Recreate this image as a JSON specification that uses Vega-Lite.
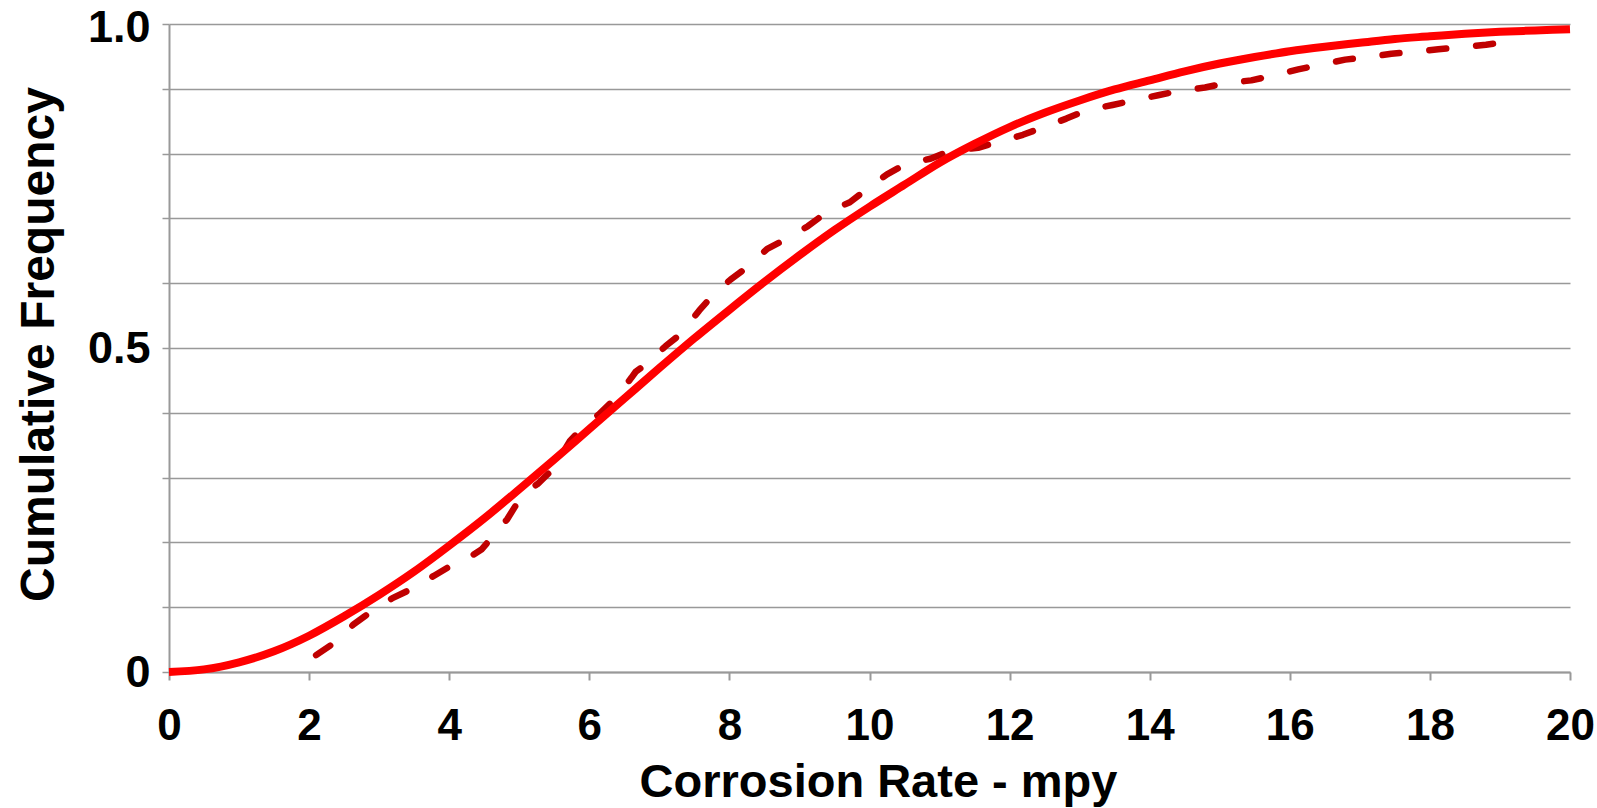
{
  "$schema": "https://vega.github.io/schema/vega-lite/v6.json",
  "width": 1401,
  "height": 648,
  "autosize": {"type": "none"},
  "padding": {"left": 169, "top": 24, "right": 27, "bottom": 136},
  "background": "white",
  "config": {"view": {"stroke": null}, "font": "Liberation Sans"},
  "datasets": {
    "fitted": [
      {"rate": 0, "freq": 0}, {"rate": 0.5, "freq": 0.004}, {"rate": 1, "freq": 0.015},
      {"rate": 1.5, "freq": 0.032}, {"rate": 2, "freq": 0.056}, {"rate": 2.5, "freq": 0.086},
      {"rate": 3, "freq": 0.119}, {"rate": 3.5, "freq": 0.155}, {"rate": 4, "freq": 0.195},
      {"rate": 4.5, "freq": 0.237}, {"rate": 5, "freq": 0.282}, {"rate": 5.5, "freq": 0.328},
      {"rate": 6, "freq": 0.375}, {"rate": 6.5, "freq": 0.422}, {"rate": 7, "freq": 0.469},
      {"rate": 7.5, "freq": 0.515}, {"rate": 8, "freq": 0.559}, {"rate": 8.5, "freq": 0.602},
      {"rate": 9, "freq": 0.643}, {"rate": 9.5, "freq": 0.682}, {"rate": 10, "freq": 0.718},
      {"rate": 10.5, "freq": 0.752}, {"rate": 11, "freq": 0.786}, {"rate": 11.5, "freq": 0.815},
      {"rate": 12, "freq": 0.841}, {"rate": 12.5, "freq": 0.863}, {"rate": 13, "freq": 0.882},
      {"rate": 13.5, "freq": 0.899}, {"rate": 14, "freq": 0.913}, {"rate": 14.5, "freq": 0.927},
      {"rate": 15, "freq": 0.939}, {"rate": 15.5, "freq": 0.949}, {"rate": 16, "freq": 0.958},
      {"rate": 16.5, "freq": 0.965}, {"rate": 17, "freq": 0.971}, {"rate": 17.5, "freq": 0.977},
      {"rate": 18, "freq": 0.981}, {"rate": 18.5, "freq": 0.985}, {"rate": 19, "freq": 0.988},
      {"rate": 19.5, "freq": 0.990}, {"rate": 20, "freq": 0.992}
    ],
    "observed": [
      {"rate": 2.10, "freq": 0.026}, {"rate": 2.36, "freq": 0.045}, {"rate": 2.63, "freq": 0.073},
      {"rate": 2.87, "freq": 0.092}, {"rate": 3.19, "freq": 0.114}, {"rate": 3.46, "freq": 0.128},
      {"rate": 3.79, "freq": 0.149}, {"rate": 4.04, "freq": 0.165}, {"rate": 4.30, "freq": 0.178},
      {"rate": 4.46, "freq": 0.189}, {"rate": 4.58, "freq": 0.204}, {"rate": 4.83, "freq": 0.236},
      {"rate": 4.99, "freq": 0.264}, {"rate": 5.10, "freq": 0.279}, {"rate": 5.26, "freq": 0.290},
      {"rate": 5.49, "freq": 0.314}, {"rate": 5.72, "freq": 0.356}, {"rate": 5.87, "freq": 0.373},
      {"rate": 6.13, "freq": 0.397}, {"rate": 6.37, "freq": 0.422}, {"rate": 6.60, "freq": 0.454},
      {"rate": 6.66, "freq": 0.463}, {"rate": 6.81, "freq": 0.475}, {"rate": 7.09, "freq": 0.503},
      {"rate": 7.31, "freq": 0.522}, {"rate": 7.57, "freq": 0.558}, {"rate": 7.75, "freq": 0.580},
      {"rate": 8.02, "freq": 0.606}, {"rate": 8.27, "freq": 0.626}, {"rate": 8.54, "freq": 0.653},
      {"rate": 8.81, "freq": 0.668}, {"rate": 9.12, "freq": 0.688}, {"rate": 9.37, "freq": 0.708},
      {"rate": 9.72, "freq": 0.725}, {"rate": 9.96, "freq": 0.745}, {"rate": 10.25, "freq": 0.768},
      {"rate": 10.52, "freq": 0.784}, {"rate": 10.87, "freq": 0.792}, {"rate": 11.15, "freq": 0.804},
      {"rate": 11.55, "freq": 0.809}, {"rate": 11.84, "freq": 0.818}, {"rate": 12.19, "freq": 0.829},
      {"rate": 12.47, "freq": 0.840}, {"rate": 12.81, "freq": 0.854}, {"rate": 13.10, "freq": 0.867},
      {"rate": 13.47, "freq": 0.875}, {"rate": 13.77, "freq": 0.882}, {"rate": 14.12, "freq": 0.890},
      {"rate": 14.43, "freq": 0.897}, {"rate": 14.79, "freq": 0.902}, {"rate": 15.10, "freq": 0.909},
      {"rate": 15.45, "freq": 0.913}, {"rate": 15.78, "freq": 0.921}, {"rate": 16.12, "freq": 0.930},
      {"rate": 16.43, "freq": 0.937}, {"rate": 16.79, "freq": 0.945}, {"rate": 17.10, "freq": 0.949},
      {"rate": 17.45, "freq": 0.954}, {"rate": 17.76, "freq": 0.957}, {"rate": 18.12, "freq": 0.961},
      {"rate": 18.44, "freq": 0.964}, {"rate": 18.80, "freq": 0.968}, {"rate": 19.15, "freq": 0.973}
    ]
  },
  "encoding": {
    "x": {
      "field": "rate",
      "type": "quantitative",
      "scale": {"domain": [0, 20], "nice": false, "zero": false},
      "axis": {
        "values": [0, 2, 4, 6, 8, 10, 12, 14, 16, 18, 20],
        "grid": false,
        "domainColor": "#999999",
        "domainWidth": 2,
        "tickColor": "#999999",
        "tickWidth": 2,
        "tickSize": 8,
        "labelFont": "Liberation Sans",
        "labelFontWeight": "bold",
        "labelFontSize": 44,
        "labelColor": "#000000",
        "labelPadding": 24,
        "labelFlush": false,
        "labelOverlap": false,
        "title": "Corrosion Rate - mpy",
        "titleFont": "Liberation Sans",
        "titleFontWeight": "bold",
        "titleFontSize": 47,
        "titleColor": "#000000",
        "titleX": 709,
        "titleY": 124,
        "titleAlign": "center",
        "titleBaseline": "alphabetic"
      }
    },
    "y": {
      "field": "freq",
      "type": "quantitative",
      "scale": {"domain": [0, 1], "nice": false},
      "axis": {
        "values": [0, 0.1, 0.2, 0.3, 0.4, 0.5, 0.6, 0.7, 0.8, 0.9, 1],
        "grid": true,
        "gridColor": "#999999",
        "gridWidth": 1.5,
        "domainColor": "#999999",
        "domainWidth": 2,
        "tickColor": "#999999",
        "tickWidth": 1.5,
        "tickSize": 7,
        "labelExpr": "datum.value == 0 ? '0' : (datum.value == 0.5 ? '0.5' : (datum.value == 1 ? '1.0' : ''))",
        "labelFont": "Liberation Sans",
        "labelFontWeight": "bold",
        "labelFontSize": 45,
        "labelColor": "#000000",
        "labelPadding": 12,
        "labelBaseline": "middle",
        "labelOffset": {"condition": {"test": "datum.value == 1", "value": 3}, "value": 0},
        "labelOverlap": false,
        "title": "Cumulative Frequency",
        "titleFont": "Liberation Sans",
        "titleFontWeight": "bold",
        "titleFontSize": 48,
        "titleColor": "#000000",
        "titleAngle": -90,
        "titleX": -116,
        "titleY": 320,
        "titleAlign": "center",
        "titleBaseline": "alphabetic"
      }
    }
  },
  "layer": [
    {
      "data": {"name": "observed"},
      "mark": {"type": "line", "color": "#C00000", "strokeWidth": 6.5, "strokeDash": [17, 30], "strokeCap": "round", "strokeJoin": "round"}
    },
    {
      "data": {"name": "fitted"},
      "mark": {"type": "line", "color": "#FF0000", "strokeWidth": 8, "interpolate": "monotone", "strokeCap": "butt"}
    }
  ]
}
